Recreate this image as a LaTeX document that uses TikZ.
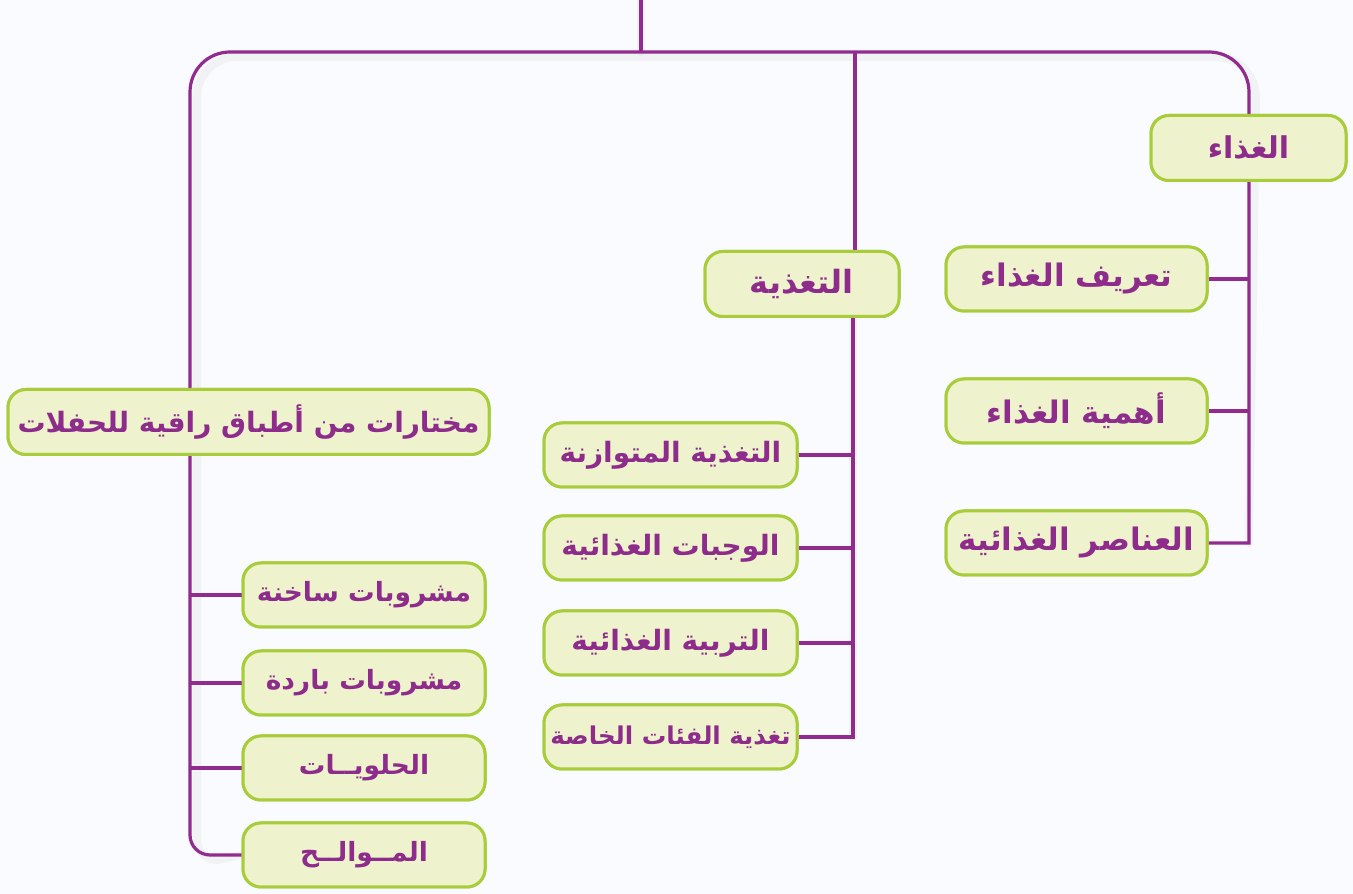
\documentclass[tikz,border=0pt]{standalone}
\usepackage{fontspec}
\newfontfamily\ar[Script=Arabic]{DejaVu Sans}
\TeXXeTstate=1
\definecolor{bg}{HTML}{F9FBFE}
\definecolor{ln}{HTML}{922B8F}
\definecolor{tx}{HTML}{8E2C8C}
\definecolor{bx}{HTML}{EEF3CD}
\definecolor{bd}{HTML}{A8CC3A}
\tikzset{
  conn/.style={draw=ln, line width=3.2pt},
  shad/.style={draw=black!30, line width=8pt, opacity=0.12, line cap=round},
  box/.style={draw=bd, fill=bx, line width=3pt, rounded corners=18pt, text=tx, inner sep=0pt},
  big/.style={box, minimum height=65pt},
  sub/.style={box, minimum height=64pt},
  fs/.style={font=\ar\bfseries\fontsize{#1}{#1}\selectfont},
}
\newcommand{\RL}[1]{\beginR #1\endR}
\begin{document}
\begin{tikzpicture}[x=1pt,y=1pt]
\fill[bg] (0,0) rectangle (1353,894);
\useasboundingbox (0,0) rectangle (1353,894);
% coordinates
\coordinate (top) at (641,894);
\coordinate (topj) at (641,842);
\coordinate (hj) at (855,842);
\coordinate (tx) at (853,0);
\coordinate (rx) at (1249,0);
\coordinate (lx) at (190,0);
% nodes (placed first to get anchors, drawn on top later)
\path
 node[big, minimum width=195pt] (g) at (1248.5,746) {}
 node[sub, minimum width=261pt] (f1) at (1076.5,615) {}
 node[sub, minimum width=261pt] (f2) at (1076.5,483) {}
 node[sub, minimum width=261pt] (f3) at (1076.5,351) {}
 node[big, minimum width=194pt] (t) at (802,610) {}
 node[sub, minimum width=253pt] (n1) at (670.5,439) {}
 node[sub, minimum width=253pt] (n2) at (670.5,346) {}
 node[sub, minimum width=253pt] (n3) at (670.5,251) {}
 node[sub, minimum width=253pt] (n4) at (670.5,157) {}
 node[big, minimum width=481pt] (m) at (248.5,472) {}
 node[sub, minimum width=242pt] (m1) at (364,299) {}
 node[sub, minimum width=242pt] (m2) at (364,211) {}
 node[sub, minimum width=242pt] (m3) at (364,126) {}
 node[sub, minimum width=242pt] (m4) at (364,39) {};
% shadows
\begin{scope}[shift={(7,-5)}]
\draw[shad] (top) -- (topj);
\draw[shad] (m4.west) -- (210,39) arc[start angle=270,end angle=180,radius=20] -- (190,802) arc[start angle=180,end angle=90,radius=40] -- (1209,842) arc[start angle=90,end angle=0,radius=40] -- (f3.east -| rx);
\draw[shad] (t.south -| tx) -- (n4.east -| tx);
\end{scope}
% connectors
\draw[conn] (top) -- (topj);
\draw[conn] (m4.west) -- (210,39) arc[start angle=270,end angle=180,radius=20] -- (190,802) arc[start angle=180,end angle=90,radius=40] -- (1209,842) arc[start angle=90,end angle=0,radius=40] -- (f3.east -| rx) -- (f3.east);
\draw[conn] (hj) -- (hj |- t.north);
\draw[conn] (t.south -| tx) -- (n4.east -| tx) -- (n4.east);
\foreach \n in {n1,n2,n3} \draw[conn] (\n.east) -- (\n.east -| tx);
\foreach \n in {f1,f2} \draw[conn] (\n.east) -- (\n.east -| rx);
\foreach \n in {m1,m2,m3} \draw[conn] (\n.west) -- (\n.west -| lx);
% boxes
\node[big, minimum width=195pt, fs=30] at (g) {\RL{الغذاء}};
\node[sub, minimum width=261pt, fs=31] at (f1) {\RL{تعريف الغذاء}};
\node[sub, minimum width=261pt, fs=31] at (f2) {\RL{أهمية الغذاء}};
\node[sub, minimum width=261pt, fs=31] at (f3) {\RL{العناصر الغذائية}};
\node[big, minimum width=194pt, fs=32] at (t) {\RL{التغذية}};
\node[sub, minimum width=253pt, fs=28] at (n1) {\RL{التغذية المتوازنة}};
\node[sub, minimum width=253pt, fs=28] at (n2) {\RL{الوجبات الغذائية}};
\node[sub, minimum width=253pt, fs=28] at (n3) {\RL{التربية الغذائية}};
\node[sub, minimum width=253pt, fs=24.5] at (n4) {\RL{تغذية الفئات الخاصة}};
\node[big, minimum width=481pt, fs=28] at (m) {\RL{مختارات من أطباق راقية للحفلات}};
\node[sub, minimum width=242pt, fs=26.5] at (m1) {\RL{مشروبات ساخنة}};
\node[sub, minimum width=242pt, fs=26.5] at (m2) {\RL{مشروبات باردة}};
\node[sub, minimum width=242pt, fs=26.5] at (m3) {\RL{الحلويــات}};
\node[sub, minimum width=242pt, fs=26.5] at (m4) {\RL{المــوالــح}};
\end{tikzpicture}
\end{document}
